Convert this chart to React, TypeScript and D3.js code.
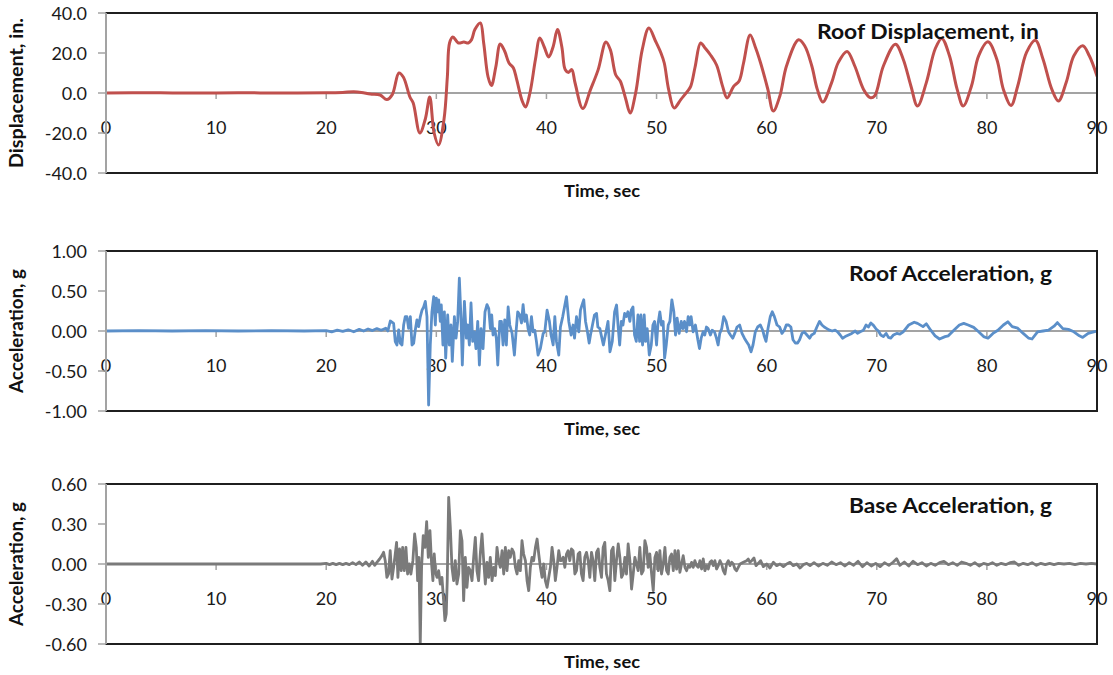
import React from 'react';
import * as d3 from 'd3';

// ---------- tick labels ----------
const timeTicks = [0, 10, 20, 30, 40, 50, 60, 70, 80, 90];
const dispTicks = [40, 20, 0, -20, -40];
const roofAccTicks = [1, 0.5, 0, -0.5, -1];
const baseAccTicks = [0.6, 0.3, 0, -0.3, -0.6];

// ---------- series: [time (s), value] ----------
const roofDisplacement: [number, number][] = [
  [0, 0], [4, 0.1], [8, 0], [12, 0.1], [16, 0], [20, 0.1], [21.5, 0.3], [22.5, 0.6], [23.2, 0.3], [24, -0.5],
  [24.9, -1], [25.5, -3.3], [26.0, -0.8], [26.6, 10], [27.0, 8], [27.6, -2], [27.9, -5], [28.5, -20], [29.0, -13],
  [29.4, -2], [29.8, -20], [30.2, -26], [30.7, -13], [31.0, 8], [31.2, 25], [31.5, 28], [32.0, 25], [32.5, 25.5],
  [32.9, 25], [33.2, 26.7], [33.5, 31.7], [34.0, 35], [34.3, 25], [34.7, 8], [35.0, 3.7], [35.4, 13], [35.8, 24.5],
  [36.2, 21], [36.6, 15], [37.0, 12.5], [37.3, 6.7], [37.8, -4], [38.1, -7], [38.5, 0], [39.0, 16.7], [39.4, 27.5],
  [39.8, 23], [40.2, 18], [40.6, 23], [41.0, 31.7], [41.4, 23], [41.7, 11.7], [42.0, 10.3], [42.3, 11.7], [42.6, 5],
  [43.3, -7.8], [44.0, 1.7], [44.7, 11.7], [45.4, 25.5], [45.8, 21.7], [46.3, 9], [46.7, 6], [47.2, -3], [47.6, -10],
  [48.1, 0], [48.7, 21.7], [49.3, 32.5], [49.9, 26], [50.4, 20], [50.7, 15], [51.1, 1.7], [51.6, -7.5], [52.2, -3.3],
  [52.8, 0.8], [53.1, 3.3], [53.5, 13], [54.0, 25], [54.4, 22.5], [54.9, 19], [55.45, 14], [56.0, 3.3], [56.4, -2.5],
  [57.0, 3.3], [57.5, 6], [57.9, 15], [58.5, 29], [59.0, 22.5], [59.45, 15], [60.1, 2], [60.6, -9], [61.2, -1.5],
  [61.8, 13.5], [62.9, 26.6], [63.45, 23.6], [64.1, 13.5], [64.6, 1.8], [65.1, -4.5], [65.9, 5.2], [66.5, 15.2],
  [67.3, 20.8], [68.0, 13.5], [68.8, 1.8], [69.4, -2.3], [69.8, -1.5], [70.6, 13.5], [71.7, 24.4], [72.4, 16.9],
  [73.1, 3.5], [73.7, -6.5], [74.5, 5.2], [75.3, 22], [75.9, 27.3], [76.6, 18.6], [77.3, 1.8], [77.85, -6.5],
  [78.6, 3.5], [79.25, 18.6], [80.1, 25.6], [80.9, 16.9], [81.5, 1.8], [82.2, -6.2], [82.8, 3.5], [83.6, 20.3],
  [84.4, 26.4], [85.1, 16.9], [85.9, 1.8], [86.5, -4], [87.2, 5.2], [87.9, 18.6], [88.7, 23.6], [89.3, 18.6], [90, 8.5],
];

const roofAcceleration: [number, number][] = [
  [0, 0], [3, 0.005], [6, 0], [9, 0.005], [12, 0], [15, 0.005], [18, 0], [20, 0.005], [20.5, -0.01], [21, 0.01],
  [21.5, -0.005], [22, 0.015], [22.5, -0.01], [23, 0.02], [23.4, 0.0], [23.8, 0.025], [24.2, 0.005], [24.6, 0.03],
  [25.0, 0.01], [25.4, 0.035], [25.6, 0.0],
  [25.82, 0.125], [26.12, 0.096], [26.27, -0.133], [26.42, -0.175], [26.58, 0.013], [26.73, -0.154], [26.88, -0.175],
  [27.03, 0.075], [27.18, 0.18], [27.33, 0.18], [27.48, 0.033], [27.64, 0.18], [27.79, -0.175], [27.94, -0.154],
  [28.09, 0.013], [28.24, 0.14], [28.39, 0.054], [28.55, 0.18], [28.7, 0.26], [28.85, 0.3], [29.0, 0.37], [29.15, 0.18],
  [29.3, -0.925], [29.45, -0.175], [29.6, 0.24], [29.76, 0.43], [29.91, 0.075], [30.0, 0.41], [30.12, 0.24], [30.21, 0.39],
  [30.36, 0.12], [30.45, 0.325], [30.6, -0.175], [30.73, 0.24], [30.85, -0.34], [31.03, 0.2], [31.18, -0.175],
  [31.33, 0.075], [31.45, -0.38], [31.64, 0.18], [31.79, -0.09], [31.94, 0.12], [32.09, 0.66], [32.24, 0.16],
  [32.36, -0.425], [32.55, 0.37], [32.73, -0.09], [32.85, 0.075], [33.0, -0.175], [33.15, 0.35], [33.3, -0.13],
  [33.45, -0.01], [33.6, -0.22], [33.76, 0.12], [33.91, -0.425], [34.06, 0.03], [34.24, -0.22], [34.42, 0.24],
  [34.6, 0.33], [34.76, 0.28], [34.91, 0.03], [35.03, 0.2], [35.15, -0.05], [35.3, 0.03], [35.45, -0.09], [35.58, -0.425],
  [35.76, 0.12], [35.91, 0.12], [36.06, -0.175], [36.21, 0.14], [36.36, -0.175], [36.52, 0.3], [36.67, 0.075],
  [36.88, -0.03], [37.09, -0.3], [37.24, -0.01], [37.39, 0.24], [37.58, 0.2], [37.73, 0.1], [37.88, 0.33], [38.03, 0.12],
  [38.18, 0.2], [38.33, 0.03], [38.48, -0.05], [38.64, 0.18], [38.79, -0.01], [38.94, 0.01], [39.09, -0.13], [39.24, -0.3],
  [39.45, -0.22], [39.7, -0.03], [39.85, -0.01], [40.06, 0.26], [40.27, 0.12], [40.42, -0.05], [40.61, -0.175],
  [40.76, 0.18], [40.91, -0.13], [41.12, -0.3], [41.27, 0.05], [41.48, 0.18], [41.64, 0.3], [41.82, 0.43], [42.03, 0.12],
  [42.24, -0.05], [42.42, 0.075], [42.55, -0.09], [42.73, 0.18], [42.94, -0.01], [43.09, 0.26], [43.24, 0.33],
  [43.39, 0.39], [43.55, 0.12], [43.7, 0.01], [43.88, -0.15], [44.0, -0.05], [44.18, 0.075], [44.36, 0.2], [44.55, 0.22],
  [44.67, 0.05], [44.85, 0.03],
  [45.17, -0.175], [45.38, -0.03], [45.59, 0.12], [45.77, -0.26], [45.98, -0.13], [46.19, 0.24], [46.37, 0.325],
  [46.5, 0.075], [46.65, -0.175], [46.8, 0.12], [46.95, 0.075], [47.1, 0.22], [47.25, 0.18], [47.4, 0.24], [47.58, 0.12],
  [47.7, 0.26], [47.86, 0.3], [48.0, -0.05], [48.16, -0.13], [48.31, 0.2], [48.46, -0.13], [48.58, 0.2], [48.73, -0.175],
  [48.88, 0.2], [49.0, -0.13], [49.15, 0.03], [49.34, -0.3], [49.52, -0.175], [49.67, 0.075], [49.82, 0.12],
  [50.0, -0.175], [50.12, 0.075], [50.3, 0.24], [50.45, 0.075], [50.6, 0.12], [50.73, -0.34], [50.88, -0.175],
  [51.06, 0.075], [51.21, 0.12], [51.39, 0.39], [51.57, 0.24], [51.72, -0.05], [51.87, 0.16], [52.05, -0.03],
  [52.24, 0.12], [52.39, 0.03], [52.54, 0.12], [52.72, -0.01], [52.87, 0.18], [53.02, 0.075], [53.14, 0.18],
  [53.32, -0.01], [53.53, 0.075], [53.75, -0.11], [53.9, -0.22], [54.05, -0.09], [54.23, -0.01], [54.38, -0.05],
  [54.53, 0.05], [54.68, 0.03], [54.89, -0.05], [55.05, 0.01], [55.26, -0.01], [55.44, -0.09], [55.59, -0.175],
  [55.74, -0.03], [55.92, 0.03], [56.1, 0.18], [56.31, 0.12], [56.53, -0.01], [56.71, -0.05], [56.92, -0.09],
  [57.1, -0.03], [57.31, 0.05], [57.55, 0.075], [57.76, -0.03], [57.98, -0.09], [58.16, -0.13], [58.37, -0.175],
  [58.58, -0.26], [58.76, -0.175], [58.97, -0.01], [59.18, 0.05], [59.43, 0.075], [59.64, 0.01], [59.79, -0.07],
  [59.94, -0.13], [60.12, 0.03], [60.33, 0.18], [60.51, 0.24], [60.7, 0.18], [60.94, 0.075], [61.18, 0.05],
  [61.39, -0.03], [61.6, 0.01], [61.78, 0.075], [61.99, 0.075], [62.2, 0.05], [62.39, -0.11], [62.6, -0.15],
  [62.81, -0.15], [62.99, -0.11], [63.2, -0.03], [63.41, -0.01], [63.66, -0.05], [63.9, -0.09], [64.08, -0.05],
  [64.32, -0.03], [64.56, 0.05], [64.8, 0.12], [65.02, 0.075], [65.23, 0.05], [65.47, 0.03], [65.71, 0.01], [65.95, 0],
  [66.22, 0.01], [66.44, -0.01], [66.68, -0.05], [66.89, -0.09], [67.13, -0.07], [67.43, -0.05], [67.73, -0.03],
  [68.04, 0], [68.25, -0.03], [68.49, -0.01], [68.79, 0.01], [69.03, 0.075], [69.24, 0.05], [69.46, 0.1], [69.7, 0.07],
  [69.94, 0.025], [70.15, 0], [70.36, -0.05], [70.6, -0.07], [70.85, -0.03], [71.06, -0.08], [71.27, -0.09],
  [71.51, -0.05], [71.81, -0.03], [72.1, -0.04], [72.4, -0.01], [72.9, 0.075], [73.4, 0.11], [73.7, 0.095],
  [74.2, 0.055], [74.5, 0.09], [74.9, 0.01], [75.3, -0.06], [75.7, -0.1], [76.2, -0.07], [76.5, -0.06], [77.0, 0.01],
  [77.5, 0.075], [77.9, 0.095], [78.3, 0.075], [78.8, 0.045], [79.25, -0.01], [79.7, -0.07], [80.1, -0.09],
  [80.55, -0.03], [81.0, 0.01], [81.5, 0.075], [81.9, 0.115], [82.3, 0.055], [82.8, 0.035], [83.3, -0.03],
  [83.8, -0.09], [84.1, -0.1], [84.6, -0.01], [85.1, 0], [85.6, 0.01], [86.1, 0.06], [86.4, 0.105], [86.9, 0.03],
  [87.4, 0.02], [87.9, -0.01], [88.4, -0.06], [88.7, -0.08], [89.2, -0.03], [89.7, -0.01], [90, 0],
];

const baseAcceleration: [number, number][] = [
  [0, 0], [4, 0], [8, 0], [12, 0], [16, 0], [19.5, 0], [20, 0.005], [20.3, -0.005], [20.6, 0.005], [20.9, -0.005],
  [21.2, 0.005], [21.5, -0.005], [21.8, 0.005], [22.1, -0.005], [22.4, 0.01], [22.7, -0.005], [23, 0.015], [23.3, -0.01],
  [23.6, 0.015], [23.9, -0.015], [24.2, 0.02], [24.4, -0.01],
  [24.6, 0.0125], [24.85, 0.0375], [25.06, 0.0625], [25.21, 0.0875], [25.36, 0.025], [25.51, -0.1], [25.66, -0.075],
  [25.81, 0.1], [25.97, -0.1125], [26.12, -0.025], [26.27, 0.075], [26.39, 0.1625], [26.51, -0.1], [26.66, 0.1125],
  [26.81, -0.05], [26.94, 0.125], [27.09, -0.05], [27.24, 0.125], [27.39, -0.075], [27.54, 0], [27.69, -0.075],
  [27.87, 0.025], [28.03, 0.225], [28.18, 0.125], [28.3, -0.125], [28.42, 0.05], [28.54, -0.6], [28.66, -0.025],
  [28.81, 0.2125], [28.97, 0.125], [29.12, 0.3175], [29.27, 0.05], [29.42, 0.25], [29.57, 0], [29.69, -0.125],
  [29.81, 0.075], [29.93, -0.0625], [30.06, -0.1], [30.21, -0.05], [30.36, -0.15], [30.51, -0.1], [30.66, -0.275],
  [30.78, -0.425], [30.9, -0.375], [30.99, -0.125], [31.12, 0.5], [31.27, 0.275], [31.42, -0.025], [31.57, -0.125],
  [31.72, 0.025], [31.87, -0.15], [32.03, -0.075], [32.18, 0.25], [32.33, 0.175], [32.48, -0.275], [32.63, 0.05],
  [32.78, -0.175], [32.93, -0.025], [33.09, -0.05], [33.24, -0.125], [33.39, 0.05], [33.54, 0.2], [33.69, -0.05],
  [33.84, -0.125], [34.0, 0.0875], [34.15, 0.225], [34.3, 0.025], [34.45, -0.15], [34.6, 0.0125], [34.75, -0.1],
  [34.9, 0.05], [35.06, -0.125], [35.21, -0.025], [35.36, -0.0875], [35.51, 0.125], [35.66, 0.025], [35.81, -0.025],
  [35.97, 0.1], [36.12, -0.075], [36.27, 0.125], [36.42, -0.05], [36.57, 0.1], [36.72, 0.05], [36.87, 0.1125],
  [37.03, 0.0875], [37.18, -0.025], [37.33, -0.075], [37.48, 0.025], [37.63, -0.05], [37.78, 0.175], [37.93, 0.075],
  [38.09, 0.025], [38.24, -0.125], [38.39, -0.2], [38.54, -0.025], [38.69, 0.05], [38.84, 0.025], [39.0, 0.125],
  [39.15, 0.1875], [39.3, 0.075], [39.45, -0.025], [39.6, -0.1], [39.75, 0], [39.9, -0.125], [40.06, -0.175],
  [40.21, -0.1], [40.36, -0.025], [40.51, 0.125], [40.66, 0.025], [40.81, -0.125], [40.96, -0.025], [41.12, 0.1],
  [41.27, 0.025],
  [41.36, 0.025], [41.52, 0.05], [41.67, -0.025], [41.82, 0.075], [41.97, 0.1], [42.12, 0.025], [42.27, 0.1125],
  [42.42, 0.1], [42.58, -0.075], [42.73, -0.05], [42.88, 0.075], [43.03, 0.0875], [43.18, -0.075], [43.33, -0.125],
  [43.48, 0.05], [43.64, 0.0875], [43.79, 0.025], [43.94, -0.1], [44.09, 0.0875], [44.24, 0.025], [44.39, -0.125],
  [44.55, 0.0875], [44.7, 0.1125], [44.85, -0.025], [45.0, -0.1], [45.15, 0.125], [45.3, 0.1625], [45.45, -0.075],
  [45.61, -0.125], [45.76, -0.2], [45.91, 0.1], [46.06, 0.125], [46.21, -0.125], [46.36, 0.025], [46.52, 0.15],
  [46.67, 0.05], [46.82, -0.1], [46.97, -0.075], [47.12, 0.05], [47.27, -0.075], [47.42, 0.15], [47.58, 0.025],
  [47.73, -0.1875], [47.88, -0.075], [48.03, 0.05], [48.18, 0], [48.33, -0.05], [48.48, 0.125], [48.64, -0.075],
  [48.79, -0.05], [48.94, 0.175], [49.09, 0.125], [49.24, -0.025], [49.39, 0.075], [49.55, -0.075], [49.7, -0.2],
  [49.85, 0.05], [50.0, 0.0875], [50.15, -0.05], [50.3, 0.1], [50.45, -0.075], [50.61, 0], [50.76, 0.125],
  [50.91, -0.05], [51.06, -0.075], [51.21, 0.05], [51.36, 0.075], [51.52, -0.05], [51.67, 0.1], [51.82, -0.0375],
  [51.97, 0.1], [52.12, -0.0625], [52.27, 0], [52.42, 0.0625], [52.58, -0.025], [52.73, -0.05], [52.88, -0.0125],
  [53.03, -0.025], [53.18, 0.0125], [53.33, -0.025], [53.48, 0.025], [53.64, -0.0125], [53.79, -0.025], [53.94, 0.025],
  [54.09, -0.0375], [54.24, 0.0375], [54.39, -0.05], [54.55, -0.0125], [54.7, -0.0375], [54.85, 0.0125], [55.0, 0.025],
  [55.15, -0.0125], [55.3, 0.025], [55.45, -0.0375], [55.61, -0.0125], [55.76, 0.025], [55.91, 0], [56.06, -0.05],
  [56.21, -0.075], [56.36, 0], [56.52, 0.025], [56.67, -0.0125], [56.82, 0.0125], [56.97, 0], [57.12, -0.0375],
  [57.27, -0.05], [57.42, -0.025], [57.58, 0], [57.88, 0.0125], [58.18, 0.025], [58.33, 0.0375], [58.48, 0.0125],
  [58.64, 0.025], [58.85, 0.045], [59.03, -0.0125], [59.24, 0.005], [59.45, 0.025], [59.7, -0.02], [60.0, 0],
  [60.3, -0.03], [60.61, 0.0125], [60.91, -0.0125], [61.21, 0], [61.52, -0.02], [61.82, 0], [62.12, 0.0125],
  [62.42, -0.0125], [62.73, 0], [63.03, -0.03], [63.33, -0.005], [63.64, 0.005], [63.94, -0.0125],
  [64.3, 0.01], [64.7, -0.015], [65.1, 0.005], [65.5, -0.01], [65.9, 0.015], [66.3, -0.005], [66.7, 0.01],
  [67.1, -0.015], [67.5, 0.01], [67.9, -0.01], [68.3, 0.02], [68.7, -0.02], [69.1, 0.01], [69.5, -0.015], [69.9, 0.005],
  [70.3, -0.02], [70.7, 0.01], [71.1, -0.01], [71.5, 0.015], [71.8, 0.04], [72.1, -0.01], [72.5, 0.015], [72.9, -0.015],
  [73.3, 0.02], [73.7, -0.005], [74.1, 0.01], [74.5, -0.015], [74.9, 0.005], [75.3, -0.01], [75.7, 0.01], [76.1, 0.02],
  [76.5, -0.005], [76.9, 0.01], [77.3, -0.01], [77.7, 0.015], [78.1, 0.005], [78.5, -0.01], [78.9, 0.01], [79.3, -0.015],
  [79.7, 0.005], [80.1, -0.005], [80.5, 0.01], [80.9, -0.01], [81.3, 0.005], [81.7, -0.005], [82.1, 0.01], [82.5, 0.015],
  [82.9, -0.01], [83.3, 0.005], [83.7, -0.005], [84.1, 0.01], [84.5, -0.01], [84.9, 0.005], [85.3, -0.005],
  [85.7, 0.005], [86.1, -0.005], [86.5, 0.005], [87, 0], [87.5, 0.005], [88, -0.005], [88.5, 0.005], [89, 0],
  [89.5, 0.005], [90, 0],
];

// ---------- layout ----------
const W = 1113;
const H = 675;
const PLOT_LEFT = 106;
const PLOT_RIGHT = 1097;
const FONT = "Lato, 'Open Sans', sans-serif";

interface PanelSpec {
  id: string;
  data: [number, number][];
  ticks: number[];
  decimals: number;
  top: number;
  bottom: number;
  color: string;
  lineWidth: number;
  smooth: boolean;
  yTitle: string;
  yTitleLen: number;
  title: string;
  titleX: number;
  titleY: number;
  titleLen: number;
}

const panels: PanelSpec[] = [
  {
    id: 'disp', data: roofDisplacement, ticks: dispTicks, decimals: 1, top: 13, bottom: 173,
    color: '#C0504D', lineWidth: 3, smooth: true, yTitle: 'Displacement, in.', yTitleLen: 150,
    title: 'Roof Displacement, in', titleX: 817, titleY: 39, titleLen: 222,
  },
  {
    id: 'racc', data: roofAcceleration, ticks: roofAccTicks, decimals: 2, top: 251, bottom: 411,
    color: '#5B8FC9', lineWidth: 2.8, smooth: false, yTitle: 'Acceleration, g', yTitleLen: 124,
    title: 'Roof Acceleration, g', titleX: 849, titleY: 281, titleLen: 203,
  },
  {
    id: 'bacc', data: baseAcceleration, ticks: baseAccTicks, decimals: 2, top: 484, bottom: 644,
    color: '#7A7A7A', lineWidth: 2.8, smooth: false, yTitle: 'Acceleration, g', yTitleLen: 124,
    title: 'Base Acceleration, g', titleX: 849, titleY: 513, titleLen: 203,
  },
];

const fmt = (v: number, d: number) => v.toFixed(d).replace('\u2212', '-');

function Panel({ p }: { p: PanelSpec }) {
  const x = d3.scaleLinear().domain([0, 90]).range([PLOT_LEFT, PLOT_RIGHT]);
  const yMax = d3.max(p.ticks) as number;
  const yMin = d3.min(p.ticks) as number;
  const y = d3.scaleLinear().domain([yMin, yMax]).range([p.bottom, p.top]);
  const line = d3
    .line<[number, number]>()
    .x((d) => x(d[0]))
    .y((d) => y(d[1]))
    .curve(p.smooth ? d3.curveCatmullRom.alpha(0.5) : d3.curveLinear);
  const y0 = y(0);
  const mid = (p.top + p.bottom) / 2;
  const clipId = `clip-${p.id}`;
  const axisGray = '#A3A3A3';
  return (
    <g>
      <defs>
        <clipPath id={clipId}>
          <rect x={PLOT_LEFT} y={p.top - 1} width={PLOT_RIGHT - PLOT_LEFT} height={p.bottom - p.top + 2} />
        </clipPath>
      </defs>
      {/* x tick labels */}
      {timeTicks.map((t) => (
        <text key={`xt${t}`} x={x(t)} y={y0 + 41} textAnchor="middle" fontSize={18} fill="#1a1a1a" fontFamily={FONT}>
          {t}
        </text>
      ))}
      {/* zero line (x axis) */}
      <line x1={PLOT_LEFT} x2={PLOT_RIGHT} y1={y0} y2={y0} stroke={axisGray} strokeWidth={2} />
      {timeTicks.map((t) => (
        <line key={`xtk${t}`} x1={x(t)} x2={x(t)} y1={y0} y2={y0 + 6} stroke={axisGray} strokeWidth={1.5} />
      ))}
      {/* data */}
      <path d={line(p.data) || ''} fill="none" stroke={p.color} strokeWidth={p.lineWidth}
        strokeLinejoin="round" strokeLinecap="round" clipPath={`url(#${clipId})`} />
      {/* frame */}
      <rect x={PLOT_LEFT} y={p.top} width={PLOT_RIGHT - PLOT_LEFT} height={p.bottom - p.top}
        fill="none" stroke="#1f1f1f" strokeWidth={2} />
      {/* y axis */}
      <line x1={PLOT_LEFT} x2={PLOT_LEFT} y1={p.top} y2={p.bottom} stroke={axisGray} strokeWidth={2} />
      {p.ticks.map((v) => (
        <g key={`yt${v}`}>
          <line x1={PLOT_LEFT - 8} x2={PLOT_LEFT} y1={y(v)} y2={y(v)} stroke={axisGray} strokeWidth={1.5} />
          <text x={87} y={y(v) + 6.5} textAnchor="end" fontSize={18} fill="#1a1a1a" fontFamily={FONT}>
            {fmt(v, p.decimals)}
          </text>
        </g>
      ))}
      {/* y title */}
      <text transform={`translate(23,${mid}) rotate(-90)`} textAnchor="middle" fontSize={18}
        fontWeight="bold" fill="#111" fontFamily={FONT} textLength={p.yTitleLen} lengthAdjust="spacingAndGlyphs">
        {p.yTitle}
      </text>
      {/* x title */}
      <text x={564} y={p.bottom + 24} fontSize={17} fontWeight="bold" fill="#111" fontFamily={FONT}
        textLength={76} lengthAdjust="spacingAndGlyphs">
        Time, sec
      </text>
      {/* chart title */}
      <text x={p.titleX} y={p.titleY} fontSize={21} fontWeight="bold" fill="#111" fontFamily={FONT}
        textLength={p.titleLen} lengthAdjust="spacingAndGlyphs">
        {p.title}
      </text>
    </g>
  );
}

export default function App() {
  return (
    <svg width={W} height={H} viewBox={`0 0 ${W} ${H}`}
      style={{ position: 'absolute', left: 0, top: 0, background: '#fff' }}>
      <rect x={0} y={0} width={W} height={H} fill="#fff" />
      {panels.map((p) => (
        <Panel key={p.id} p={p} />
      ))}
    </svg>
  );
}
